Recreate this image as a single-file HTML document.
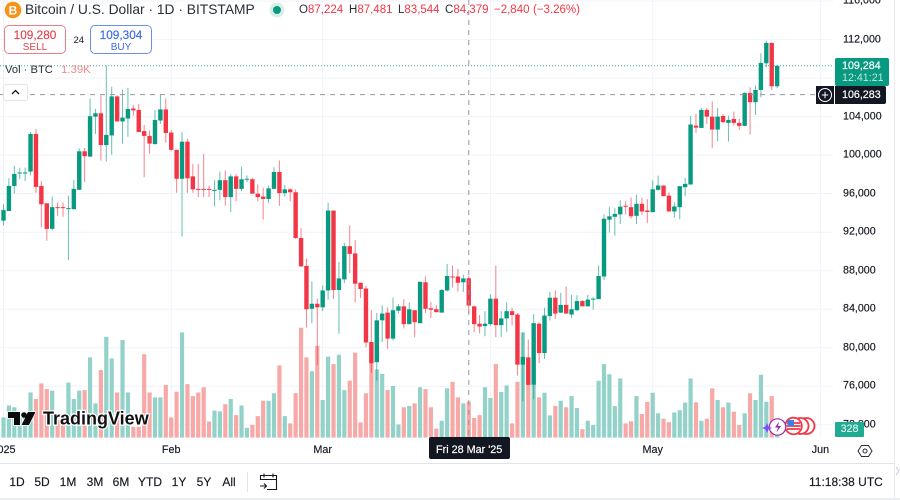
<!DOCTYPE html>
<html lang="en">
<head>
<meta charset="utf-8">
<title>Bitcoin / U.S. Dollar chart</title>
<style>
html,body{margin:0;padding:0;background:#fff}
#root{position:relative;width:900px;height:500px;overflow:hidden;background:#fff;font-family:"Liberation Sans",sans-serif;color:#131722;filter:blur(.35px)}
#root>*{position:absolute}
.t{white-space:nowrap;line-height:1}
.tick{left:843px;font-size:10.7px;color:#131722;transform:translateY(-50%);-webkit-text-stroke:.15px #131722}
.xl{top:445px;font-size:10.8px;color:#131722;transform:translateX(-50%);-webkit-text-stroke:.15px #131722}
.rng{top:476px;font-size:12px;color:#131722;transform:translateX(-50%);-webkit-text-stroke:.15px #131722}
.o{top:4.5px;font-size:11.5px;color:#f23645}
.o b{font-weight:400;color:#2a2e39}
.tradebox{width:62px;height:29px;top:25px;border-radius:5px;background:#fff;text-align:center;box-sizing:border-box}
.tradebox .p{display:block;font-size:11.8px;margin-top:3px;line-height:13px;-webkit-text-stroke:.15px}
.tradebox .s{display:block;font-size:10px;line-height:11px}
</style>
</head>
<body>
<div id="root">
  <svg id="plot" width="900" height="500" viewBox="0 0 900 500" style="left:0;top:0"></svg>

  <svg width="160" height="24" viewBox="0 0 160 24" style="left:4px;top:408px">
    <path d="M4 4h12v13h-6V10H4z M31.500 4l-6.500 13h-7.500l6.500-13z" fill="#0b0b0b" stroke="#fff" stroke-width="1.500" paint-order="stroke"/>
    <circle cx="20" cy="7" r="2.800" fill="#0b0b0b"/>
    <text x="39" y="16.500" font-family="Liberation Sans, sans-serif" font-size="18" font-weight="700" fill="#111" stroke="#fff" stroke-width="2.500" paint-order="stroke">TradingView</text>
  </svg>

  <svg width="22" height="20" viewBox="0 0 20 20" style="left:2px;top:0">
    <circle cx="10" cy="10" r="8.300" fill="#f7931a"/>
    <text x="10" y="14.500" text-anchor="middle" font-family="Liberation Sans, sans-serif" font-size="12" font-weight="700" fill="#fff">B</text>
  </svg>
  <div class="t" style="left:25px;top:3px;font-size:13.8px;color:#2a2e39">Bitcoin / U.S. Dollar · 1D · BITSTAMP</div>
  <svg width="16" height="16" viewBox="0 0 16 16" style="left:269px;top:2px">
    <circle cx="8" cy="8" r="7.500" fill="#d7efe9"/><circle cx="8" cy="8" r="4" fill="#089981"/>
  </svg>
  <div class="t o" style="left:299px"><b>O</b>87,224</div>
  <div class="t o" style="left:349px"><b>H</b>87,481</div>
  <div class="t o" style="left:398px"><b>L</b>83,544</div>
  <div class="t o" style="left:445px"><b>C</b>84,379</div>
  <div class="t o" style="left:494px">−2,840</div>
  <div class="t o" style="left:533px">(−3.26%)</div>

  <div class="tradebox" style="left:4px;border:1px solid #ee7d85;color:#e0424f"><span class="p">109,280</span><span class="s">SELL</span></div>
  <div class="t" style="left:73.500px;top:36px;font-size:9.500px;color:#131722">24</div>
  <div class="tradebox" style="left:90px;border:1px solid #6d8ff0;color:#3d68e8"><span class="p">109,304</span><span class="s">BUY</span></div>

  <div class="t" style="left:5px;top:65px;font-size:11.200px;color:#2a2e39">Vol · BTC</div>
  <div class="t" style="left:61px;top:65px;font-size:11.400px;color:#ef8a88">1.39K</div>
  <div style="left:3px;top:84px;width:25px;height:17px;background:#fff;border:1px solid #e0e3eb;border-radius:3px;box-sizing:border-box">
    <svg width="23" height="15" viewBox="0 0 23 15" style="display:block"><path d="M8 9l3.500-3.500L15 9" fill="none" stroke="#131722" stroke-width="1.300"/></svg>
  </div>

  <div style="left:835px;top:58px;width:54px;height:28px;background:#089981;border-radius:2px"></div>
  <div class="t" style="left:842px;top:61px;font-size:10.700px;color:#fff;-webkit-text-stroke:.2px #fff">109,284</div>
  <div class="t" style="left:842px;top:73px;font-size:10.700px;color:#bfe6dd">12:41:21</div>

  <div style="left:816px;top:86px;width:18px;height:18px;background:#131722">
    <svg width="18" height="18" viewBox="0 0 18 18" style="display:block"><circle cx="9" cy="9" r="6.500" fill="none" stroke="#fff" stroke-width="1"/><path d="M9 5.800v6.400M5.800 9h6.400" stroke="#fff" stroke-width="1"/></svg>
  </div>
  <div style="left:835px;top:86px;width:51px;height:18px;background:#131722;border-radius:0 2px 2px 0"></div>
  <div class="t" style="left:842px;top:90px;font-size:10.700px;color:#fff;-webkit-text-stroke:.2px #fff">106,283</div>

  <div class="t" style="left:835px;top:422px;width:29px;height:15px;line-height:15px;background:#22ab94;color:#fff;font-size:10.700px;text-align:center;border-radius:1px">328</div>

  <svg width="60" height="24" viewBox="0 0 60 24" style="left:762px;top:414px">
    <circle cx="44.500" cy="12" r="8" fill="#fff" stroke="#f23645" stroke-width="1.800"/>
    <circle cx="38.500" cy="12" r="8" fill="#fff" stroke="#f23645" stroke-width="1.800"/>
    <circle cx="31.500" cy="12" r="8.300" fill="#fff" stroke="#f23645" stroke-width="1.800"/>
    <path d="M25 9h13M24.500 12h14M25 15h13" stroke="#f23645" stroke-width="1.800"/>
    <rect x="25.500" y="6" width="6.500" height="6" fill="#3f7fe0"/>
    <circle cx="15.500" cy="13" r="8.200" fill="#fff" stroke="#9c27b0" stroke-width="1.200"/>
    <path d="M17 7.500L13 13.500h3l-1.500 5 4.500-6.500h-3z" fill="#9c27b0"/>
    <path d="M5 9l1.400 3.500L10 14 6.400 15.500 5 19l-1.400-3.500L0 14l3.600-1.500z" fill="#7c4dff"/>
  </svg>

  <div style="left:429px;top:437px;width:81px;height:22px;background:#131722;border-radius:2px"></div>
  <div class="t" style="left:436px;top:445px;font-size:10.800px;color:#fff;-webkit-text-stroke:.2px #fff">Fri 28 Mar '25</div>

  <svg width="18" height="18" viewBox="0 0 18 18" style="left:856px;top:442px">
    <path d="M5.500 3.500h7L16 9l-3.500 5.500h-7L2 9z" fill="none" stroke="#2a2e39" stroke-width="1"/><circle cx="9" cy="9" r="2" fill="none" stroke="#2a2e39" stroke-width="1"/>
  </svg>

  <div style="left:0;top:463px;width:894px;height:1px;background:#e0e3eb"></div>
  <div class="t rng" style="left:17px">1D</div>
  <div class="t rng" style="left:42px">5D</div>
  <div class="t rng" style="left:68px">1M</div>
  <div class="t rng" style="left:95px">3M</div>
  <div class="t rng" style="left:121px">6M</div>
  <div class="t rng" style="left:150px">YTD</div>
  <div class="t rng" style="left:179px">1Y</div>
  <div class="t rng" style="left:204px">5Y</div>
  <div class="t rng" style="left:229px">All</div>
  <div style="left:247px;top:472px;width:1px;height:20px;background:#e0e3eb"></div>
  <svg width="20" height="20" viewBox="0 0 20 20" style="left:259px;top:472px">
    <path d="M1.500 8V3.500h16v14H8M1.500 7.500h16M5 1.500v4M14 1.500v4" fill="none" stroke="#131722" stroke-width="1.100"/><path d="M1 14h6.500M5 11.500L7.500 14 5 16.500" fill="none" stroke="#131722" stroke-width="1.100"/>
  </svg>
  <div class="t" style="left:809px;top:476px;font-size:12px;color:#131722;-webkit-text-stroke:.15px #131722">11:18:38 UTC</div>

  <div style="left:894px;top:0;width:1px;height:498px;background:#e9ebf0"></div>
  <svg width="6" height="10" viewBox="0 0 6 10" style="left:895px;top:466px"><path d="M1 1l3 4-3 4" fill="none" stroke="#c4c7cf" stroke-width="1"/></svg>
  <div style="left:0;top:497.500px;width:900px;height:2.500px;background:#eceef2"></div>
</div>

<script>
// Prices in thousands of USD, one entry per daily candle from 1 Jan 2025.
var opens = [
93.2,94.2,96.8,98.1,98.1,98.3,102.2,96.8,95,92.35,
94.6,94.6,94.4,94.4,96.4,100.4,99.85,104,104.35,101.05,
102.05,106.1,103.5,103.8,104.85,104.7,102.5,102,101.15,103.6,
104.75,102.35,100.55,97.55,101.4,97.8,96.5,96.5,96.5,96.3,
96.4,97.4,95.65,97.8,96.5,97.45,97.5,96,95.7,95.45,
96.5,98.25,96.05,96.45,96.15,91.4,88.5,84.05,84.57,84.2,
85.95,94.25,86,87.1,90.55,89.8,86.75,86.15,80.6,78.5,
82.85,83.65,80.95,83.85,84.3,82.45,83.9,82.55,86.8,84.1,
84,83.65,85.95,87.4,87.4,86.8,87.22,84.3,82.5,82.25,
82.45,85.1,82.35,83.05,83.8,83.45,78.25,79,76.15,82.5,
79.45,83.3,85.2,83.65,84.45,83.45,83.9,84.85,84.3,85,
85.05,87.4,93.3,93.6,93.85,94.75,94.6,93.7,94.95,94.25,
94.08,96.4,96.85,95.8,94.15,94.6,96.67,96.95,103.07,102.83,
104.7,104,102.66,104.07,103.35,103.76,103.35,103.04,106.46,105.5,
106.77,109.54,111.65,107.15];
var highs = [
94.9,97.6,98.9,98.7,98.7,102.4,102.7,97.3,95,95.7,
95.1,95.1,95.8,97.4,100.7,100.75,105.9,104.8,106.2,109.3,
107.1,106.2,106.8,107,105.2,105.3,103.15,102.55,104.7,106.35,
105.9,102.6,100.55,102.4,101.7,99.1,99.1,100.15,96.85,97.4,
98.3,98.4,98.05,98.05,98.8,97.9,97.65,96.95,96.6,96.85,
98.75,99.45,96.9,96.55,96.45,92.45,89.25,86.9,85.1,86.45,
95.05,94.25,88.9,90.9,92.7,91.2,86.75,86.45,83.9,83.6,
84.4,84.2,85.2,84.55,85.05,84.7,83.9,86.85,87.4,84.75,
84.4,86.1,88.7,88.55,88.2,87.6,87.48,84.4,83.4,83.8,
85.55,88.55,83.8,84.7,84.15,83.6,81.6,80.85,83.5,82.65,
84.15,85.8,85.95,85.7,86.35,85.5,85.45,84.95,85.5,85.25,
88.55,93.85,94.6,94.5,95.3,95.2,95.6,95.9,95.6,95.43,
97.37,97.88,96.85,96.15,95.1,96.78,97.64,104.04,104.28,104.91,
104.91,105.6,104.91,104.28,104.11,104.52,103.76,106.53,107.05,107.22,
110.58,111.89,111.72,109.37];
var lows = [
92.7,94.2,96,97.5,97.3,97.9,96.1,92.5,91.1,92.2,
93.7,93.6,89.1,94.3,96.4,97.2,99.85,102.2,99.45,99.35,
100.05,103.5,101.2,101.9,104.1,102.4,97.7,100.15,101.1,103.25,
101.3,100.4,96.1,91.55,96.1,96.1,95.65,95.65,95.65,94.7,
95.3,94.75,94.1,95.2,96.25,97.2,96,95.2,93.3,95,
96.5,94.75,95.7,95.2,91.3,88.4,82.1,82.55,78.2,83.8,
85,85.05,81.45,86.7,87.75,84.7,85.15,80.05,77.4,76.6,
80.6,79.9,80.75,83.55,82,82.45,81.1,82.55,83.6,83.1,
83.65,83.65,85.85,86.25,85.85,85.8,83.54,81.6,81.5,81.2,
82.3,81.1,81.1,81.65,82.3,77.1,74.45,76.15,74.65,78.4,
78.85,82.85,83,83.6,83.55,83.1,83.8,84.3,84.3,83.95,
85.05,87.05,91.95,91.65,92.85,93.85,93.4,92.85,93.8,92.94,
94.08,96.3,95.74,94.15,93.5,93.35,95.74,96.95,102.31,102.83,
103.25,100.72,101.45,103.35,101.41,103.07,102.62,103.04,102.14,104.18,
106,109.13,106.77,106.95];
var closes = [
94.3,96.8,98.05,98.2,98.2,102.2,96.7,94.9,92.35,94.6,
94.5,94.5,94.5,96.5,100.4,99.9,104.05,104.35,101.05,102.1,
106.1,103.5,103.9,104.8,104.65,102.4,102,101.2,103.65,104.75,
102.3,100.55,97.55,101.4,97.6,96.45,96.4,96.4,96.4,96.4,
97.4,95.65,97.8,96.5,97.5,97.55,96,95.65,95.45,96.55,
98.25,96.05,96.45,96.15,91.4,88.45,84,84.57,84.2,85.95,
94.25,86,87.2,90.55,89.75,86.65,86.1,80.55,78.4,82.85,
83.55,80.95,83.9,84.3,82.45,84,82.65,86.85,84.05,83.95,
83.7,86,87.45,87.3,86.75,87.2,84.38,82.45,82.2,82.5,
85.1,82.35,83.05,83.8,83.4,78.25,79.05,76.15,82.55,79.45,
83.35,85.2,83.55,84.45,83.55,84,84.85,84.3,85,85.1,
87.45,93.4,93.65,93.9,94.65,94.65,93.65,94.95,94.15,94.1,
96.46,96.85,95.74,94.15,94.67,96.78,97.02,103.18,102.86,104.7,
104,102.66,104,103.42,103.66,103.35,103.04,106.46,105.5,106.77,
109.58,111.65,107.15,109.28];
// Volume in thousands of BTC.
var volumes = [
0.78,1.24,1.17,0.78,0.78,1.74,1.49,2.09,1.87,1.81,
0.68,0.68,2.12,1.49,1.81,1.83,3.09,1.32,2.6,3.88,
3.05,1.74,3.76,1.74,0.42,0.42,3.21,1.74,1.55,1.55,
2.03,0.78,1.77,4.05,2.06,1.6,1.74,1.94,0.62,1.04,
1.01,1.29,1.49,0.87,1.24,0.38,0.49,0.83,1.42,1.42,
1.71,2.78,0.83,0.55,1.71,4.23,3.09,2.56,3.53,1.45,
3.12,2.83,3.19,1.83,2.19,3.27,0.59,1.71,3.24,2.63,
2.45,1.83,1.99,0.51,1.17,1.22,1.32,1.94,1.87,1.17,
0.35,0.65,1.9,2.15,1.55,1.32,1.39,0.76,0.87,1.94,
1.53,2.83,1.76,2.01,0.55,2.15,4.05,2.22,2.03,1.55,
1.73,0.86,1.22,1.42,1.17,1.6,1.14,0.33,0.65,0.49,
2.19,2.83,2.44,1.22,2.28,0.55,0.63,1.6,0.91,1.38,
1.73,0.94,0.73,0.6,0.97,1.06,1.35,2.28,1.36,0.65,
0.73,1.9,1.45,1.17,1.35,1,0.49,0.94,1.71,1.45,
2.42,1.38,1.6,0.328];
// Axis labels
var priceTickValues = [116,112,104,100,96,92,88,84,80,76,72];
var priceTickLabels = ['116,000','112,000','104,000','100,000','96,000','92,000','88,000','84,000','80,000','76,000','72,000'];
var gridPriceValues = [116,112,108,104,100,96,92,88,84,80,76,72];
var timeTickDays = [0,31,59,90,120,151];
var timeTickLabels = ['2025','Feb','Mar','Apr','May','Jun'];
var lastPrice = 109.284;
var crosshairPrice = 106.283;
var crosshairDay = 86;

var X0 = 3.5, BAR = 5.41, Y112 = 39.6, PX_PER_K = 9.63, VOL_BASE = 437.7, VOL_PX = 26;
var PLOT_RIGHT = 833;
function xOf(day){ return X0 + day * BAR; }
function yOf(p){ return Y112 + (112 - p) * PX_PER_K; }
function volH(v){ return v * VOL_PX; }

var NS = 'http://www.w3.org/2000/svg';
var svg = document.getElementById('plot');
function mk(tag, attrs, parent){
  var el = document.createElementNS(NS, tag);
  for (var k in attrs) el.setAttribute(k, attrs[k]);
  (parent || svg).appendChild(el);
  return el;
}

var defs = mk('defs', {});
var cp = mk('clipPath', {id:'plot-clip'}, defs);
mk('rect', {x:0, y:0, width:PLOT_RIGHT, height:VOL_BASE}, cp);
var layer = mk('g', {'clip-path':'url(#plot-clip)'});



gridPriceValues.forEach(function(p){
  var el = mk('line', {x1:0, x2:PLOT_RIGHT, y1:yOf(p), y2:yOf(p), stroke:'#f0f3fa', 'stroke-width':1}, layer);
  
  
});
timeTickDays.forEach(function(d){
  var el = mk('line', {x1:xOf(d), x2:xOf(d), y1:0, y2:VOL_BASE, stroke:'#f0f3fa', 'stroke-width':1}, layer);
  
  
});

volumes.forEach(function(v, i){
  var up = closes[i] >= opens[i];
  var h = volH(v);
  var el = mk('rect', {x:xOf(i) - 2.1, y:VOL_BASE - h, width:4.2, height:h, fill: up ? '#92d2c9' : '#f7a9a7'}, layer);
  
  
});

opens.forEach(function(o, i){
  var c = closes[i];
  var up = c >= o;
  var col = up ? '#089981' : '#f23645';
  var x = xOf(i);
  var wick = mk('line', {x1:x, x2:x, y1:yOf(highs[i]), y2:yOf(lows[i]), stroke:col, 'stroke-width':1, 'stroke-opacity':0.62}, layer);
  
  
  var top = yOf(Math.max(o, c));
  var hgt = Math.max(1, Math.abs(yOf(o) - yOf(c)));
  var body = mk('rect', {x:x - 2.2, y:top, width:4.4, height:hgt, fill:col}, layer);
  
  
});

var priceLine = mk('line', {x1:0, x2:PLOT_RIGHT, y1:yOf(lastPrice), y2:yOf(lastPrice), stroke:'#089981', 'stroke-width':1, 'stroke-dasharray':'1 2', 'stroke-opacity':0.8}, layer);


var crossH = mk('line', {x1:0, x2:PLOT_RIGHT, y1:yOf(crosshairPrice), y2:yOf(crosshairPrice), stroke:'#9598a1', 'stroke-width':1, 'stroke-dasharray':'5 5'}, layer);


var crossV = mk('line', {x1:xOf(crosshairDay), x2:xOf(crosshairDay), y1:0, y2:VOL_BASE, stroke:'#9598a1', 'stroke-width':1, 'stroke-dasharray':'5 5'}, layer);



var root = document.getElementById('root');
var firstOverlay = svg.nextElementSibling;
priceTickValues.forEach(function(p, i){
  var d = document.createElement('div');
  d.className = 't tick';
  d.style.top = yOf(p) + 'px';
  d.textContent = priceTickLabels[i];
  
  
  root.insertBefore(d, firstOverlay);
});
timeTickDays.forEach(function(day, i){
  var d = document.createElement('div');
  d.className = 't xl';
  d.style.left = xOf(day) + 'px';
  d.textContent = timeTickLabels[i];
  
  
  root.insertBefore(d, firstOverlay);
});
</script>
</body>
</html>
